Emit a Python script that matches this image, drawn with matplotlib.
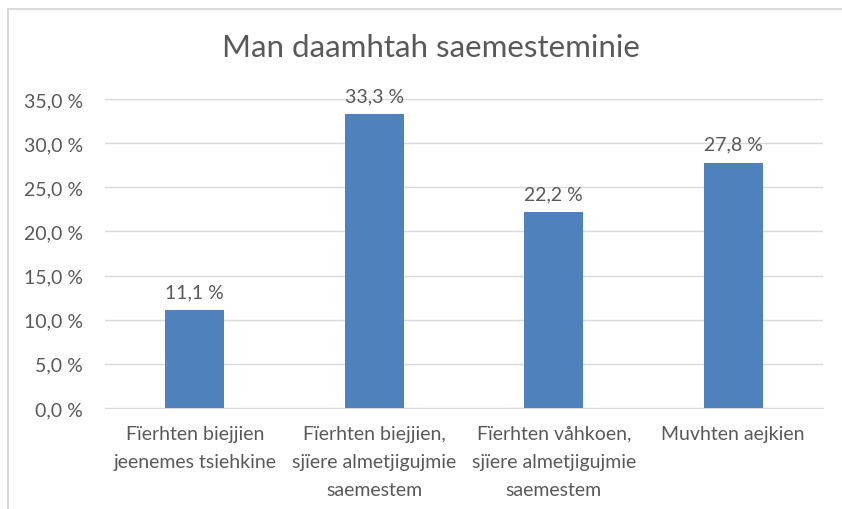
import matplotlib.pyplot as plt
from matplotlib.patches import Rectangle
from matplotlib.ticker import FuncFormatter

categories = ["Fïerhten biejjien\njeenemes tsiehkine",
              "Fïerhten biejjien,\nsjïere almetjigujmie\nsaemestem",
              "Fïerhten våhkoen,\nsjïere almetjigujmie\nsaemestem",
              "Muvhten aejkien"]
values = [11.1, 33.3, 22.2, 27.8]
title = "Man daamhtah saemesteminie"

plt.rcParams['font.family'] = ['Lato', 'DejaVu Sans']
txt = '#595959'

fig = plt.figure(figsize=(8.42, 5.10), dpi=100)
# chart border (only top/left visible in the crop)
fig.patches.append(Rectangle((8/842, -0.1), 1.2, 1.1 - 10/510,
                             transform=fig.transFigure, fill=False,
                             edgecolor='#D9D9D9', linewidth=1.5))
ax = fig.add_axes([105/842, 1 - 409/510, (823 - 105)/842, (409 - 100)/510])

x = range(len(values))
ax.bar(x, values, width=0.33, color='#4F81BD', zorder=3)
for i, v in enumerate(values):
    ax.text(i, v + 1.1, f"{v:.1f} %".replace('.', ','), ha='center', va='bottom',
            fontsize=14, color=txt)

ax.set_xlim(-0.5, 3.5)
ax.set_ylim(0, 35)
ax.set_yticks([0, 5, 10, 15, 20, 25, 30, 35])
ax.yaxis.set_major_formatter(FuncFormatter(lambda v, p: f"{v:.1f} %".replace('.', ',')))
ax.set_xticks(list(x))
ax.set_xticklabels(categories, fontsize=14, color=txt, linespacing=1.8)
ax.tick_params(axis='y', length=0, labelsize=14, labelcolor=txt, pad=16)
ax.tick_params(axis='x', length=0, pad=12)
ax.grid(axis='y', color='#D9D9D9', linewidth=1, zorder=0)
for s in ['top', 'right', 'left']:
    ax.spines[s].set_visible(False)
ax.spines['bottom'].set_color('#D9D9D9')

fig.text(431/842, 1 - 48/510, title, ha='center', va='center', fontsize=22.5, color=txt)

fig.savefig('out.png', dpi=100)
